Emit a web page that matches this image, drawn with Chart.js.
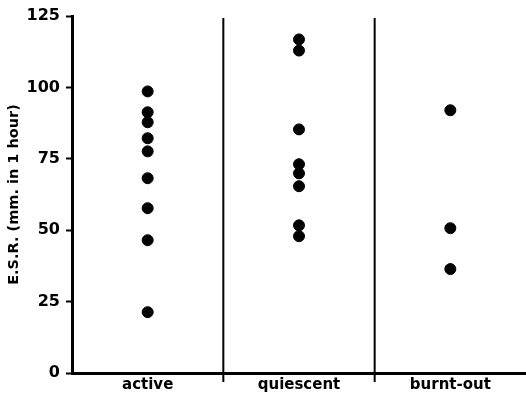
<!DOCTYPE html>
<html>
<head>
<meta charset="utf-8">
<script src="https://cdn.jsdelivr.net/npm/chart.js@4"></script>
<style>
    html, body { margin: 0; padding: 0; background: #fff; overflow: hidden; }
    #wrap { width: 526px; height: 395px; }
</style>
</head>
<body>
<div id="wrap"><canvas id="chart"></canvas></div>
<script>
const categories = ['active', 'quiescent', 'burnt-out'];
const activeValues = [98.6, 91.3, 87.8, 82.2, 77.6, 68.2, 57.7, 46.5, 21.3];
const quiescentValues = [116.8, 112.9, 85.3, 73.1, 69.9, 65.4, 51.7, 47.9];
const burntOutValues = [92, 50.7, 36.4];
const yTicks = [0, 25, 50, 75, 100, 125];

const groups = [activeValues, quiescentValues, burntOutValues];
const points = [];
groups.forEach((vals, i) => {
    vals.forEach(v => points.push({ x: i + 0.5, y: v }));
});

// vertical lines between the groups, running a bit below the axis
const dividers = {
    id: 'dividers',
    afterDatasetsDraw(chart) {
        const { ctx, scales: { x, y } } = chart;
        ctx.save();
        ctx.strokeStyle = '#000';
        ctx.lineWidth = 2;
        for (let i = 1; i < categories.length; i++) {
            const px = x.getPixelForValue(i);
            ctx.beginPath();
            ctx.moveTo(px, y.top + 2);
            ctx.lineTo(px, y.bottom + 9);
            ctx.stroke();
        }
        ctx.restore();
    }
};

new Chart(document.getElementById('chart'), {
    type: 'scatter',
    data: {
        datasets: [{
            data: points,
            backgroundColor: '#000',
            borderColor: '#000',
            pointRadius: 5.5,
            pointHoverRadius: 5.5
        }]
    },
    options: {
        responsive: true,
        maintainAspectRatio: false,
        animation: false,
        layout: { autoPadding: false, padding: { top: 16, right: 0, left: 0, bottom: 0 } },
        plugins: { legend: { display: false }, tooltip: { enabled: false } },
        scales: {
            x: {
                type: 'linear',
                min: 0,
                max: categories.length,
                afterBuildTicks: scale => {
                    scale.ticks = categories.map((c, i) => ({ value: i + 0.5 }));
                },
                afterFit: scale => {
                    scale.height = 22;
                    scale.paddingLeft = 0;
                    scale.paddingRight = 0;
                },
                grid: { display: true, drawOnChartArea: false, drawTicks: false },
                border: { display: true, color: '#000', width: 3 },
                ticks: {
                    color: '#000',
                    padding: 3,
                    maxRotation: 0,
                    autoSkip: false,
                    font: { family: 'DejaVu Sans', weight: 'bold', size: 15 },
                    callback: (v) => categories[Math.round(v - 0.5)]
                }
            },
            y: {
                min: 0,
                max: 125,
                afterBuildTicks: scale => {
                    scale.ticks = yTicks.map(v => ({ value: v }));
                },
                afterFit: scale => { scale.width = 72; },
                grid: { drawOnChartArea: false, drawTicks: true, tickLength: 6, tickWidth: 2, color: '#000' },
                border: { display: true, color: '#000', width: 3 },
                title: {
                    display: true,
                    text: 'E.S.R. (mm. in 1 hour)',
                    color: '#000',
                    padding: { top: 6, bottom: 0 },
                    font: { family: 'DejaVu Sans', weight: 'bold', size: 14.5 }
                },
                ticks: {
                    color: '#000',
                    padding: 6,
                    font: { family: 'DejaVu Sans', weight: 'bold', size: 16 }
                }
            }
        }
    },
    plugins: [dividers]
});
</script>
</body>
</html>
